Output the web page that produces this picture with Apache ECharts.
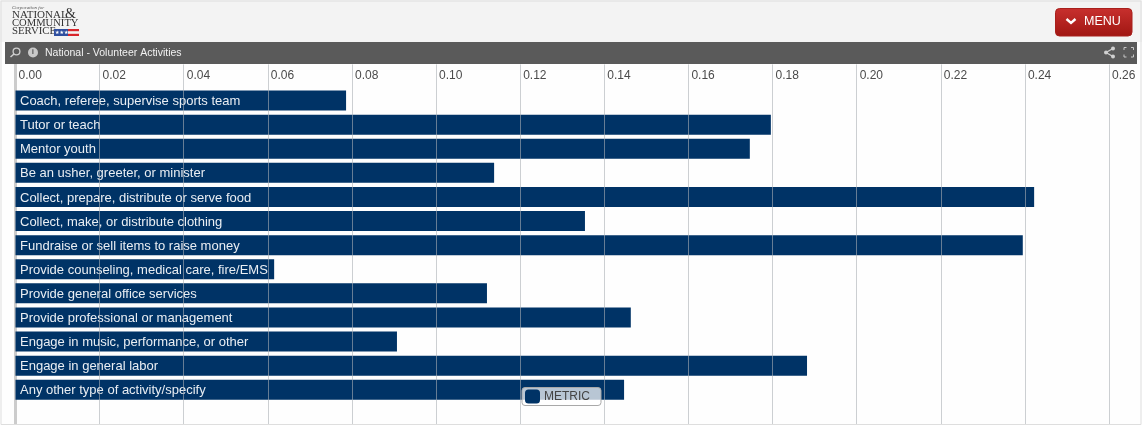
<!DOCTYPE html>
<html><head><meta charset="utf-8">
<style>html,body{margin:0;padding:0;background:#fff}#c{width:1142px;height:428px}</style>
<script src="https://cdn.jsdelivr.net/npm/echarts@6/dist/echarts.min.js"></script>
</head><body><div id="c"></div>
<script>
const categories = ["Coach, referee, supervise sports team","Tutor or teach","Mentor youth","Be an usher, greeter, or minister","Collect, prepare, distribute or serve food","Collect, make, or distribute clothing","Fundraise or sell items to raise money","Provide counseling, medical care, fire/EMS","Provide general office services","Provide professional or management","Engage in music, performance, or other","Engage in general labor","Any other type of activity/specify"];
const values = [0.0786,0.1796,0.1746,0.1138,0.2422,0.1354,0.2395,0.0615,0.1121,0.1463,0.0907,0.1882,0.1447];
const seriesName = "METRIC";
const title = "National - Volunteer Activities";

const chart = echarts.init(document.getElementById('c'), null, {renderer:'canvas'});
const F = '"Liberation Sans", Arial, sans-serif';
const grey = 'rgba(170,175,180,0.6)';
chart.setOption({
  animation:false,
  backgroundColor:'#fefefe',
  grid:{left:15.5,top:64.4,width:1093.5,height:361.5,containLabel:false},
  xAxis:{type:'value',position:'top',min:0,max:0.26,interval:0.02,z:10,
    axisLine:{show:false},axisTick:{show:false},
    axisLabel:{inside:true,align:'left',margin:5.5,padding:[0,0,0,3],color:'#4a4a4a',fontSize:12,fontFamily:F,
      showMinLabel:true,showMaxLabel:true,hideOverlap:false,formatter:v=>v.toFixed(2)},
    splitLine:{show:true,showMinLine:false,lineStyle:{color:grey,width:1}}},
  yAxis:{type:'category',inverse:true,data:['',...categories,''],
    axisLine:{show:true,lineStyle:{color:'#cccccc',width:3}},axisTick:{show:false},axisLabel:{show:false},splitLine:{show:false}},
  legend:{left:522,top:387.5,padding:[2,11,2,3],itemWidth:15,itemHeight:14,itemGap:0,icon:'roundRect',
    backgroundColor:'rgba(255,255,255,0.72)',borderColor:'#a9a9a9',borderWidth:1,borderRadius:3,
    textStyle:{color:'#444',fontSize:12,fontFamily:F,padding:[0,0,0,-1]},data:[seriesName],selectedMode:false},
  series:[{name:seriesName,type:'bar',barWidth:20,z:2,itemStyle:{color:'#003366'},
    data:[null,...values,null],
    label:{show:true,position:'insideLeft',distance:4.5,offset:[0,1],color:'#e9eef3',fontSize:13,fontFamily:F,
      formatter:p=>p.name}}],
  graphic:[
    {type:'rect',z:20,shape:{x:0,y:0,width:1142,height:42},style:{fill:'#f3f3f3'}},
    {type:'rect',z:20,shape:{x:0,y:425,width:1142,height:3},style:{fill:'#ffffff'}},
    {type:'rect',z:21,shape:{x:1,y:1,width:1140,height:423.5},style:{fill:null,stroke:'#dedede'}},
    {type:'rect',z:21,shape:{x:5,y:42,width:1132,height:22},style:{fill:'#5a5a5a'}},
    {type:'text',z:22,x:12,y:5,style:{text:'Corporation for',font:'italic 5px "Liberation Serif"',fill:'#555'}},
    {type:'text',z:22,x:12,y:9.5,style:{text:'NATIONAL',font:'11px "Liberation Serif"',fill:'#333'}},
    {type:'text',z:22,x:65,y:7.5,style:{text:'&',font:'14px "Liberation Serif"',fill:'#333'}},
    {type:'text',z:22,x:12,y:18,style:{text:'COMMUNITY',font:'10.6px "Liberation Serif"',fill:'#333'}},
    {type:'text',z:22,x:12,y:26,style:{text:'SERVICE',font:'10.8px "Liberation Serif"',fill:'#333'}},
    {type:'rect',z:22,shape:{x:54,y:29,width:14,height:7},style:{fill:'#2f4f9f'}},
    {type:'text',z:23,x:55,y:30,style:{text:'★★★',font:'5px "DejaVu Sans"',fill:'#fff'}},
    {type:'rect',z:22,shape:{x:68,y:29,width:11,height:2.2},style:{fill:'#d8262c'}},
    {type:'rect',z:22,shape:{x:68,y:33.8,width:11,height:2.2},style:{fill:'#d8262c'}},
    {type:'rect',z:22,shape:{x:1055.5,y:8.5,width:76.5,height:27.5,r:4},
      style:{fill:new echarts.graphic.LinearGradient(0,0,0,1,[{offset:0,color:'#c8302e'},{offset:1,color:'#a01612'}]),stroke:'#a8201c'}},
    {type:'polyline',z:23,shape:{points:[[1066.5,19],[1071,23],[1075.5,19]]},style:{fill:null,stroke:'#fff',lineWidth:2.4}},
    {type:'text',z:23,x:1084,y:15,style:{text:'MENU',font:'12.5px '+F,fill:'#fff'}},
    {type:'circle',z:22,shape:{cx:16.5,cy:51.5,r:3.4},style:{fill:null,stroke:'#cfcfcf',lineWidth:1.3}},
    {type:'line',z:22,shape:{x1:14,y1:54,x2:10.5,y2:57},style:{stroke:'#cfcfcf',lineWidth:1.6}},
    {type:'circle',z:22,shape:{cx:33,cy:52.5,r:5},style:{fill:'#c9c9c9'}},
    {type:'text',z:23,x:31.8,y:48,style:{text:'i',font:'bold 8px '+F,fill:'#5a5a5a'}},
    {type:'text',z:22,x:45,y:47.5,style:{text:title,font:'10.5px '+F,fill:'#f2f2f2'}},
    {type:'polyline',z:22,shape:{points:[[1113,48.5],[1106,52.5],[1113,56.5]]},style:{fill:null,stroke:'#d0d0d0',lineWidth:1.3}},
    {type:'circle',z:22,shape:{cx:1113,cy:48.5,r:2},style:{fill:'#d0d0d0'}},
    {type:'circle',z:22,shape:{cx:1106,cy:52.5,r:2},style:{fill:'#d0d0d0'}},
    {type:'circle',z:22,shape:{cx:1113,cy:56.5,r:2},style:{fill:'#d0d0d0'}},
    {type:'polyline',z:22,shape:{points:[[1124,50],[1124,47.5],[1126.5,47.5]]},style:{fill:null,stroke:'#c8c8c8'}},
    {type:'polyline',z:22,shape:{points:[[1131,47.5],[1133.5,47.5],[1133.5,50]]},style:{fill:null,stroke:'#c8c8c8'}},
    {type:'polyline',z:22,shape:{points:[[1124,54.5],[1124,57],[1126.5,57]]},style:{fill:null,stroke:'#c8c8c8'}},
    {type:'polyline',z:22,shape:{points:[[1131,57],[1133.5,57],[1133.5,54.5]]},style:{fill:null,stroke:'#c8c8c8'}}
  ]
});
</script></body></html>
